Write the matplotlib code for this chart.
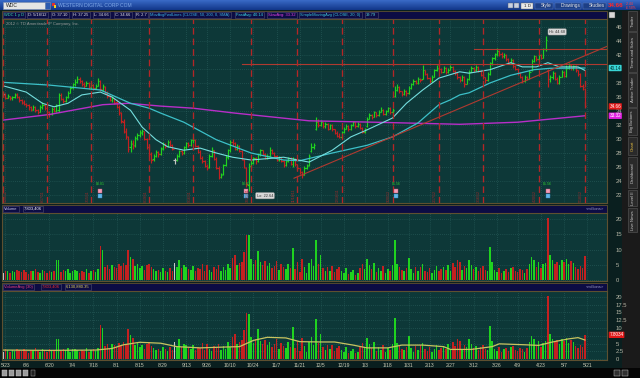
import matplotlib
matplotlib.use('Agg')
import matplotlib.pyplot as plt
import matplotlib.transforms as mtransforms
from matplotlib.patches import Rectangle
from matplotlib.colors import LinearSegmentedColormap
import numpy as np

plt.rcParams['font.family'] = ['Liberation Sans', 'DejaVu Sans']

# daily bars, WDC 5/20/2011 .. 5/18/2012 (index 0 = 5/20/11)
OPEN = [
    36.4, 36.3, 35.9, 36.1, 35.8, 36.0, 36.4, 36.0, 35.5, 35.3,
    35.0, 34.8, 34.5, 34.2, 34.6, 34.1, 33.9, 34.5, 34.9, 34.4,
    33.8, 33.6, 34.3, 34.0, 34.2, 36.3, 35.7, 35.4, 36.0, 36.6,
    37.4, 37.8, 38.2, 38.6, 38.3, 37.9, 37.6, 38.0, 37.4, 37.7,
    37.3, 37.6, 38.3, 37.0, 37.4, 36.6, 36.2, 35.5, 35.8, 35.3,
    34.6, 33.7, 32.5, 31.0, 30.3, 28.8, 29.4, 29.1, 30.2, 30.6,
    30.9, 31.1, 30.0, 28.8, 27.8, 27.1, 27.6, 28.1, 27.8, 28.7,
    29.3, 29.0, 29.6, 29.2, 27.0, 27.0, 27.6, 28.3, 28.0, 28.8,
    29.4, 29.1, 29.8, 29.9, 29.0, 28.2, 27.3, 26.8, 26.2, 26.0,
    27.6, 28.4, 27.2, 25.9, 24.6, 25.0, 26.3, 27.5, 28.4, 29.6,
    29.4, 28.6, 29.0, 28.3, 27.0, 25.8, 23.4, 26.2, 26.6, 27.3,
    26.8, 27.8, 28.4, 27.9, 27.3, 27.6, 28.5, 28.0, 27.6, 27.0,
    27.4, 26.9, 26.3, 26.8, 27.3, 26.4, 27.2, 26.4, 25.8, 25.3,
    24.9, 25.9, 26.3, 28.3, 28.9, 31.5, 32.5, 32.0, 32.4, 31.8,
    32.2, 31.5, 32.0, 31.4, 30.9, 30.5, 30.3, 31.0, 31.5, 31.9,
    31.4, 32.0, 32.4, 31.8, 32.2, 31.6, 31.0, 31.8, 32.9, 33.5,
    33.2, 33.8, 33.4, 33.9, 34.2, 33.6, 34.0, 34.4, 33.8, 36.2,
    37.0, 37.4, 36.8, 36.4, 36.9, 36.5, 37.3, 37.8, 38.3, 38.0,
    38.6, 38.6, 39.8, 39.3, 38.7, 38.3, 38.9, 39.8, 40.6, 40.0,
    39.6, 40.2, 39.5, 39.9, 40.3, 39.7, 39.4, 38.8, 38.4, 38.9,
    37.9, 38.5, 39.6, 40.2, 39.8, 40.3, 39.7, 39.2, 38.8, 38.4,
    39.3, 40.8, 41.5, 42.1, 42.6, 42.2, 41.8, 42.0, 41.4, 40.9,
    41.3, 40.4, 40.0, 39.4, 38.9, 38.3, 38.9, 38.6, 39.8, 41.2,
    41.8, 41.4, 42.0, 41.6, 42.8, 39.9, 38.6, 38.8, 39.4, 38.6,
    38.0, 38.9, 39.6, 39.0, 40.2, 40.6, 40.1, 40.4, 39.8, 39.3,
    37.6, 37.10,
]
HIGH = [
    36.7, 36.5, 36.4, 36.2, 36.2, 36.6, 36.5, 36.1, 35.7, 35.5,
    35.2, 35.0, 34.7, 34.9, 34.7, 34.3, 34.8, 35.3, 35.0, 34.6,
    34.0, 34.5, 34.6, 35.0, 36.6, 36.5, 35.9, 36.2, 36.8, 37.5,
    38.0, 38.5, 39.0, 38.8, 38.4, 38.1, 38.3, 38.1, 37.9, 37.8,
    37.8, 38.7, 38.4, 37.8, 37.5, 36.8, 36.3, 36.1, 35.9, 35.5,
    34.8, 33.9, 32.8, 31.6, 30.5, 29.8, 29.9, 30.4, 30.9, 31.3,
    31.5, 31.2, 30.1, 29.1, 28.2, 27.9, 28.4, 28.3, 28.9, 29.6,
    29.5, 29.9, 29.8, 29.3, 27.3, 27.8, 28.5, 28.5, 29.0, 29.6,
    29.6, 30.0, 30.3, 30.0, 29.2, 28.4, 27.6, 27.0, 26.5, 27.8,
    28.9, 28.5, 27.4, 26.1, 25.2, 26.5, 27.7, 28.6, 29.8, 30.0,
    29.6, 29.3, 29.2, 28.4, 27.2, 26.0, 26.6, 27.0, 27.5, 27.4,
    28.0, 28.6, 28.5, 28.0, 27.8, 28.8, 28.6, 28.1, 27.7, 27.6,
    27.5, 27.0, 27.0, 27.5, 27.4, 27.4, 27.3, 26.5, 25.9, 25.5,
    26.1, 26.5, 27.9, 29.4, 29.5, 33.2, 32.8, 32.7, 32.5, 32.4,
    32.3, 32.2, 32.1, 31.5, 31.1, 30.8, 31.2, 31.7, 32.1, 32.0,
    32.2, 32.6, 32.5, 32.4, 32.3, 31.7, 31.6, 33.1, 33.7, 33.6,
    34.0, 33.9, 34.1, 34.6, 34.3, 34.2, 34.6, 34.5, 34.4, 37.6,
    37.8, 37.5, 36.9, 37.1, 37.0, 37.5, 38.0, 38.5, 38.4, 38.8,
    38.7, 40.6, 39.9, 39.4, 38.8, 39.1, 40.0, 40.6, 40.9, 40.2,
    40.4, 40.3, 40.1, 40.6, 40.4, 39.8, 39.5, 39.0, 39.1, 39.0,
    38.7, 39.8, 40.4, 40.3, 40.6, 40.4, 39.8, 39.3, 38.9, 39.5,
    41.0, 41.7, 42.3, 43.0, 42.7, 42.4, 42.3, 42.1, 41.5, 41.5,
    41.4, 40.6, 40.1, 39.6, 39.0, 39.1, 39.0, 39.8, 41.4, 42.0,
    41.9, 42.2, 42.1, 43.0, 44.68, 40.0, 39.2, 39.7, 39.5, 38.8,
    39.1, 39.9, 39.7, 40.5, 40.9, 40.7, 40.6, 40.5, 39.9, 39.4,
    37.9, 37.25,
]
LOW = [
    36.1, 35.7, 35.8, 35.6, 35.6, 35.9, 35.8, 35.3, 35.0, 34.8,
    34.5, 34.2, 34.0, 34.1, 33.9, 33.6, 33.8, 34.3, 34.2, 33.6,
    33.1, 33.4, 33.8, 33.9, 33.9, 35.5, 35.1, 35.3, 35.9, 36.5,
    37.2, 37.6, 38.0, 38.0, 37.6, 37.3, 37.5, 37.2, 37.2, 37.0,
    37.1, 37.5, 36.9, 36.8, 36.4, 35.9, 35.4, 35.3, 35.0, 34.4,
    33.5, 32.3, 30.9, 30.0, 28.1, 28.2, 28.6, 28.9, 29.8, 30.3,
    30.6, 29.8, 28.6, 27.6, 26.6, 26.9, 27.4, 27.5, 27.7, 28.5,
    28.7, 28.9, 28.9, 28.4, 26.5, 26.8, 27.4, 27.7, 27.9, 28.6,
    28.8, 29.0, 29.5, 28.8, 28.0, 27.1, 26.6, 26.0, 25.6, 25.9,
    27.4, 27.0, 25.7, 24.3, 24.4, 24.9, 26.1, 27.2, 28.2, 29.0,
    28.4, 28.4, 28.1, 27.0, 25.8, 23.2, 22.64, 26.0, 26.4, 26.5,
    26.7, 27.6, 27.7, 27.1, 27.1, 27.5, 27.8, 27.4, 26.8, 26.9,
    26.7, 26.0, 26.2, 26.7, 26.3, 26.0, 26.2, 25.6, 25.0, 24.4,
    24.8, 25.7, 26.2, 28.2, 28.6, 31.3, 31.7, 31.8, 31.6, 31.6,
    31.3, 31.4, 31.2, 30.7, 30.3, 30.1, 30.2, 30.9, 31.4, 31.2,
    31.3, 31.9, 31.6, 31.7, 31.4, 30.8, 30.9, 31.7, 32.8, 32.9,
    33.1, 33.2, 33.3, 33.8, 33.4, 33.5, 33.9, 33.6, 33.2, 36.0,
    36.8, 36.6, 36.1, 36.3, 36.2, 36.4, 37.2, 37.7, 37.8, 37.9,
    38.1, 38.5, 39.1, 38.5, 38.0, 38.2, 38.8, 39.7, 39.8, 39.4,
    39.5, 39.3, 39.4, 39.8, 39.5, 39.2, 38.6, 38.2, 38.3, 37.4,
    37.8, 38.4, 39.5, 39.6, 39.7, 39.5, 39.0, 38.6, 38.0, 38.3,
    39.2, 40.6, 41.3, 41.9, 41.9, 41.5, 41.6, 41.2, 40.7, 40.8,
    40.2, 39.8, 39.2, 38.7, 38.0, 38.2, 38.4, 38.5, 39.7, 41.0,
    41.1, 41.3, 41.4, 41.5, 42.6, 37.4, 38.2, 38.6, 38.4, 37.8,
    37.9, 38.8, 38.8, 38.9, 40.0, 39.9, 39.9, 39.6, 39.0, 37.4,
    37.0, 34.66,
]
CLOSE = [
    36.4, 35.9, 36.1, 35.8, 36.0, 36.3, 36.0, 35.5, 35.2, 35.0,
    34.8, 34.5, 34.3, 34.6, 34.1, 33.9, 34.6, 34.9, 34.4, 33.8,
    33.6, 34.3, 34.0, 34.8, 36.3, 35.7, 35.4, 36.0, 36.6, 37.3,
    37.8, 38.2, 38.6, 38.3, 37.9, 37.6, 38.0, 37.4, 37.7, 37.3,
    37.6, 38.3, 37.2, 37.5, 36.6, 36.2, 35.6, 35.8, 35.2, 34.6,
    33.8, 32.6, 31.2, 30.4, 28.6, 29.3, 29.0, 30.2, 30.6, 31.0,
    31.2, 30.0, 28.8, 27.9, 27.0, 27.6, 28.1, 27.8, 28.6, 29.3,
    29.0, 29.6, 29.2, 28.6, 27.0, 27.6, 28.3, 28.0, 28.8, 29.4,
    29.1, 29.8, 29.9, 29.0, 28.2, 27.3, 26.8, 26.2, 25.8, 27.6,
    28.4, 27.2, 25.9, 24.6, 24.9, 26.3, 27.5, 28.4, 29.6, 29.4,
    28.6, 29.0, 28.3, 27.2, 26.0, 23.6, 26.2, 26.6, 27.3, 26.8,
    27.8, 28.4, 27.9, 27.3, 27.6, 28.5, 28.0, 27.6, 27.0, 27.4,
    26.9, 26.3, 26.8, 27.3, 26.5, 27.2, 26.4, 25.8, 25.3, 24.8,
    25.9, 26.2, 27.6, 28.9, 29.2, 32.5, 32.0, 32.4, 31.8, 32.2,
    31.5, 32.0, 31.4, 30.9, 30.5, 30.3, 31.0, 31.5, 31.9, 31.4,
    32.0, 32.4, 31.8, 32.2, 31.6, 31.0, 31.4, 32.9, 33.5, 33.2,
    33.8, 33.4, 33.9, 34.2, 33.6, 34.0, 34.4, 33.8, 34.2, 37.0,
    37.4, 36.8, 36.4, 36.9, 36.5, 37.3, 37.8, 38.3, 38.0, 38.6,
    38.4, 39.8, 39.3, 38.7, 38.3, 38.9, 39.8, 40.2, 40.0, 39.6,
    40.2, 39.5, 39.9, 40.3, 39.7, 39.4, 38.8, 38.4, 38.9, 37.9,
    38.5, 39.6, 40.2, 39.8, 40.3, 39.7, 39.2, 38.8, 38.4, 39.3,
    40.8, 41.5, 42.1, 42.6, 42.2, 41.8, 42.0, 41.4, 40.9, 41.3,
    40.4, 40.0, 39.4, 38.9, 38.3, 38.9, 38.6, 39.6, 41.2, 41.8,
    41.4, 42.0, 41.6, 42.8, 44.2, 38.6, 38.8, 39.4, 38.6, 38.0,
    38.9, 39.6, 39.0, 40.2, 40.6, 40.1, 40.4, 39.8, 39.3, 37.6,
    37.4, 34.66,
]
# volume, millions of shares
VOLUME = [
    2.4, 3.1, 2.8, 2.2, 3.0, 2.6, 3.3, 2.9, 2.5, 3.4,
    2.7, 2.1, 3.0, 2.8, 3.6, 2.6, 2.3, 3.2, 2.9, 2.4,
    3.1, 2.7, 3.0, 6.4, 6.6, 2.6, 3.3, 2.9, 3.7, 2.4,
    3.1, 3.4, 2.8, 2.2, 3.0, 2.7, 3.5, 2.4, 2.9, 3.2,
    2.6, 3.6, 11.0, 10.0, 4.2, 4.8, 3.6, 5.0, 4.4, 3.9,
    5.2, 4.6, 5.5, 4.8, 9.8, 7.6, 6.8, 4.5, 5.2, 3.8,
    4.6, 3.2, 4.9, 5.4, 4.1, 3.6, 2.8, 3.4, 2.5, 4.0,
    3.1, 2.6, 3.8, 2.9, 5.6, 4.3, 6.5, 3.9, 5.0, 4.4,
    3.6, 3.2, 4.6, 2.8, 4.0, 3.5, 5.2, 3.0, 4.8, 3.4,
    2.6, 4.3, 3.7, 5.0, 2.9, 4.1, 3.3, 5.4, 3.8, 7.1,
    8.2, 4.8, 5.6, 6.0, 9.2, 14.8, 14.6, 7.0, 5.2, 6.4,
    9.6, 5.8, 4.9, 6.2, 4.5, 5.6, 3.8, 4.7, 6.3, 3.4,
    5.1, 4.2, 3.6, 5.4, 4.0, 10.4, 3.5, 5.8, 2.6, 6.8,
    4.1, 2.2, 5.5, 7.0, 4.6, 13.0, 5.2, 8.2, 3.9, 2.8,
    4.4, 3.1, 4.6, 2.5, 3.6, 4.2, 3.0, 2.4, 3.8, 1.9,
    2.7, 3.3, 1.8, 2.2, 4.0, 5.2, 3.5, 6.9, 4.8, 3.7,
    5.6, 2.6, 3.9, 3.0, 4.5, 2.4, 3.6, 2.9, 5.0, 13.1,
    5.2, 4.3, 3.4, 2.8, 3.9, 7.3, 3.6, 2.4, 4.1, 3.0,
    4.4, 5.2, 3.1, 2.6, 3.8, 2.2, 3.3, 4.5, 2.8, 3.6,
    4.2, 3.4, 4.9, 3.0, 5.5, 4.1, 6.6, 5.9, 3.2, 4.6,
    3.8, 6.6, 5.0, 3.5, 4.2, 3.0, 3.8, 4.5, 3.3, 2.9,
    10.7, 5.8, 3.4, 2.6, 3.8, 2.2, 3.1, 3.6, 2.5, 3.9,
    4.2, 3.0, 2.7, 3.5, 3.2, 2.4, 3.7, 5.4, 7.4, 6.6,
    4.2, 5.9, 3.8, 5.2, 5.7, 20.3, 8.2, 6.6, 5.4, 6.0,
    5.0, 6.5, 5.8, 6.8, 5.2, 6.1, 5.5, 4.1, 3.5, 4.6,
    3.8, 7.8034,
]

# moving average lines (bar index, value)
MA20_IDX = [0, 10, 17, 22, 28, 34, 42, 47, 55, 60, 66, 71, 78, 85, 92, 99, 107, 121,
            132, 142, 150, 157, 168, 174, 181, 188, 197, 201, 210, 219, 224, 230, 235, 240, 248, 251]
MA20_VAL = [37.6, 36.7, 35.1, 34.6, 35.1, 36.3, 36.7, 36.0, 34.1, 31.7, 29.9, 28.9, 28.4, 28.7,
            28.0, 27.4, 27.0, 27.4, 26.7, 28.4, 30.3, 31.3, 33.0, 35.1, 37.0, 38.7, 39.6, 39.4,
            39.9, 40.9, 40.3, 40.3, 40.9, 40.3, 40.3, 39.79]
MA50_IDX = [0, 20, 42, 55, 63, 68, 78, 92, 107, 121, 128, 142, 157, 168, 179, 188, 193, 197,
            201, 210, 219, 229, 236, 251]
MA50_VAL = [38.1, 37.7, 37.0, 35.1, 34.4, 33.7, 32.4, 29.9, 28.0, 27.0, 26.9, 28.0, 29.1, 30.3,
            32.3, 34.9, 35.6, 36.3, 36.6, 38.0, 39.1, 39.9, 40.1, 40.14]
MA200_IDX = [0, 20, 43, 54, 68, 82, 100, 132, 160, 197, 222, 251]
MA200_VAL = [32.7, 33.5, 34.9, 35.1, 34.7, 34.4, 33.7, 32.6, 32.4, 32.1, 32.4, 33.32]
VAVG_IDX = [0, 20, 40, 47, 52, 59, 68, 75, 85, 97, 102, 108, 114, 122, 128, 137, 143, 151,
            157, 166, 172, 181, 190, 193, 202, 211, 214, 225, 231, 237, 244, 248, 251]
VAVG_VAL = [2.9, 2.8, 2.9, 3.4, 4.6, 5.4, 5.1, 4.0, 3.6, 3.9, 4.0, 6.0, 7.0, 6.8, 5.6, 5.5, 5.5,
            4.5, 3.6, 3.6, 4.5, 4.5, 4.0, 3.1, 3.1, 4.0, 4.9, 4.6, 4.4, 5.5, 6.5, 6.9, 6.13]

# user drawings: support/resistance levels and a trend line
LEVELS = [(103, 40.67), (203, 42.8)]
TREND_IDX = [125.5, 261]
TREND_VAL = [24.4, 43.3]

DATE_TICKS = [1, 10, 20, 30, 39, 49, 59, 69, 79, 88, 98, 108, 118, 128, 137, 147, 156,
              166, 175, 184, 193, 203, 213, 222, 232, 242, 252]
DATE_LABELS = ['5/23', '6/6', '6/20', '7/4', '7/18', '8/1', '8/15', '8/29', '9/13', '9/26',
               '10/10', '10/24', '11/7', '11/21', '12/5', '12/19', '1/3', '1/18', '1/31',
               '2/13', '2/27', '3/12', '3/26', '4/9', '4/23', '5/7', '5/21']
EXPIRY_IDX = [0, 19, 38, 63, 82, 107, 127, 146, 168, 188, 207, 231, 251]
EXPIRY_LABELS = ['5/20/11', '6/17/11', '7/15/11', '8/19/11', '9/16/11', '10/21/11',
                 '11/18/11', '12/16/11', '1/20/12', '2/17/12', '3/16/12', '4/20/12', '5/18/12']
EVENT_IDX = [42, 105, 169.5, 235]
EVENT_TEXT = ['$0.81', '$0.81', '$1.56', '$1.56']

assert len(OPEN) == len(HIGH) == len(LOW) == len(CLOSE) == len(VOLUME) == 252

W, H = 640, 378
BG = '#0d3838'
GRID = '#2c6360'
FRAME = '#5e5030'
UP, DOWN, FLAT = '#1fd21f', '#c42020', '#c8c8c8'


def rect(x0, y0, x1, y1):
    return [x0 / W, 1 - y1 / H, (x1 - x0) / W, (y1 - y0) / H]


fig = plt.figure(figsize=(6.4, 3.78), dpi=100, facecolor='#0a1f1f')

# window chrome drawn in pixel coordinates
ov = fig.add_axes([0, 0, 1, 1], zorder=-1)
ov.axis('off')
grad = LinearSegmentedColormap.from_list('tb', ['#3d6fcc', '#12378a'])
ov.imshow(np.linspace(0, 1, 20).reshape(-1, 1), extent=[0, W, 10.5, 0], cmap=grad, aspect='auto')
ov.add_patch(Rectangle((3, 2), 42, 7, fc='#e4e4e4', ec='#8090b0', lw=0.4))
ov.text(6, 5.6, 'WDC', fontsize=3.6, color='#202020', va='center')
ov.add_patch(Rectangle((45, 2), 5, 7, fc='#2d5bb0', ec='#8090b0', lw=0.4))
ov.add_patch(Rectangle((52, 3), 3, 3, fc='#e03030', lw=0))
ov.add_patch(Rectangle((53.5, 5), 2.5, 3, fc='#f0d020', lw=0))
ov.text(58, 5.6, 'WESTERN DIGITAL CORP COM', fontsize=3.6, color='#7fa8e8', va='center')
for x in [508, 514]:
    ov.add_patch(Rectangle((x, 3), 5, 5, fc='#c8d0e0', ec='#505a70', lw=0.3))
ov.add_patch(Rectangle((521, 2.5), 12, 6, fc='#e8e8e8', ec='#606060', lw=0.3))
ov.text(527, 5.6, '1 D', fontsize=3.2, color='#202020', va='center', ha='center')
for x0, x1, s in [(535, 553, 'Style'), (555, 581, 'Drawings'), (583, 606, 'Studies')]:
    ov.add_patch(Rectangle((x0, 2.5), x1 - x0, 6, fc='#1d3f86', ec='#6080c0', lw=0.3))
    ov.text(x0 + 6, 5.6, s, fontsize=3.4, color='#e8e8e8', va='center')
ov.text(608, 5.8, '34.66', fontsize=4.4, color='#ff2828', weight='bold', va='center')
ov.text(626, 3.8, '-2.44', fontsize=2.4, color='#ff4040', va='center')
ov.text(626, 7.6, '-6.58%', fontsize=2.4, color='#ff4040', va='center')

# study header strips
for y0, y1 in [(11, 19), (205, 213), (283, 291)]:
    ov.add_patch(Rectangle((2, y0), 605, y1 - y0, fc='#0c0c44', ec=FRAME, lw=0.6))


def tag(x, y, s, color, size=3.0):
    ov.text(x, y, s, color=color, fontsize=size, va='center', ha='left',
            bbox=dict(boxstyle='square,pad=0.35', fc='#0c0c44', ec='#50506e', lw=0.4))


for x, s, col in [(4, 'WDC 1 y D', '#3ee0a8'), (28, 'D: 5/18/12', '#e8e8e8'),
                  (52, 'O: 37.10', '#e8e8e8'), (73, 'H: 37.25', '#e8e8e8'),
                  (94, 'L: 34.66', '#e8e8e8'), (115, 'C: 34.66', '#e8e8e8'),
                  (136, 'R: 2.7', '#e8e8e8'),
                  (150, 'MovAvgFwdLines (CLOSE, 50, 200, 0, SMA)', '#3cb4e0'),
                  (236, 'FastAvg: 40.14', '#3cd8e0'), (268, 'SlowAvg: 33.32', '#e040e0'),
                  (300, 'SimpleMovingAvg (CLOSE, 20, 0)', '#3cc8d8'), (366, '39.79', '#5ad8d8')]:
    tag(x, 15, s, col, 2.9)
tag(4, 209, 'Volume', '#c8c8ec')
tag(24, 209, '7,803,406', '#ffffff')
tag(4, 287, 'VolumeAvg (30)', '#e8407e')
tag(42, 287, '7,803,406', '#e83030')
tag(66, 287, '6,130,880.35', '#e8d860')
for y in [209, 287]:
    ov.text(604, y, '<millions>', fontsize=3.0, color='#9c9cc8', va='center', ha='right')
ov.add_patch(Rectangle((609, 12), 6, 6, fc='#d8d8d8', ec='#404040', lw=0.3))

# right side panel tabs
ov.add_patch(Rectangle((622, 10.5), 18, 357.5, fc='#1a1a1a', lw=0))
for s, y0, y1 in [('Trader', 11, 31), ('Times and Sales', 32, 72), ('Active Trader', 73, 107),
                  ('Big Buttons', 108, 135), ('Chart', 137, 155), ('Dashboard', 157, 188),
                  ('Level II', 190, 206), ('Live News', 208, 232)]:
    ov.add_patch(Rectangle((628, y0), 9, y1 - y0, fc='#2a2a2a', ec='#5a5a5a', lw=0.4))
    ov.text(632.5, (y0 + y1) / 2, s, rotation=90, fontsize=3.1, va='center', ha='center',
            color='#e8c040' if s == 'Chart' else '#c8c8c8')

# bottom tool strip
ov.add_patch(Rectangle((0, 368), W, 10, fc='#050505', lw=0))
for x in [2, 9, 16, 23]:
    ov.add_patch(Rectangle((x, 370), 5, 6, fc='#9a9a9a', ec='#d0d0d0', lw=0.3))
ov.add_patch(Rectangle((31, 370), 4, 6, fc='#202020', ec='#b0b0b0', lw=0.3))
for x in [614, 622]:
    ov.add_patch(Rectangle((x, 370), 6, 6, fc='#303030', ec='#d0d0d0', lw=0.3))
ov.set_xlim(0, W)
ov.set_ylim(H, 0)

idx = np.arange(len(CLOSE))
o, hi, lo, c = map(np.array, (OPEN, HIGH, LOW, CLOSE))
colors = np.where(c > o, UP, np.where(c < o, DOWN, FLAT))

axp = fig.add_axes(rect(2, 19, 607, 203), facecolor=BG)
axv = fig.add_axes(rect(2, 213, 607, 281), facecolor=BG)
axa = fig.add_axes(rect(2, 291, 607, 360), facecolor=BG)

for ax in (axp, axv, axa):
    ax.set_xlim(-0.43, 260.5)
    ax.set_xticks(DATE_TICKS)
    ax.grid(True, color=GRID, ls=(0, (1, 2)), lw=0.5)
    ax.set_axisbelow(True)
    for sp in ax.spines.values():
        sp.set_color(FRAME)
        sp.set_linewidth(0.8)
    ax.tick_params(axis='y', left=False, labelleft=False, right=False, labelright=True,
                   labelsize=4.2, labelcolor='#b4b4a4', pad=3)
    ax.tick_params(axis='x', length=0, labelbottom=False)

# price bars
axp.vlines(idx, lo, hi, colors=colors, lw=0.85)
axp.hlines(o, idx - 0.55, idx, colors=colors, lw=0.85)
axp.hlines(c, idx, idx + 0.55, colors=colors, lw=0.85)
axp.plot(MA200_IDX, MA200_VAL, color='#b82ec8', lw=1.0)
axp.plot(MA50_IDX, MA50_VAL, color='#3cc0c8', lw=0.9)
axp.plot(MA20_IDX, MA20_VAL, color='#74dede', lw=0.8)
for start, level in LEVELS:
    axp.plot([start, 261], [level, level], color='#b03a30', lw=0.8)
axp.plot(TREND_IDX, TREND_VAL, color='#b03a30', lw=0.8)
for e, lab in zip(EXPIRY_IDX, EXPIRY_LABELS):
    axp.axvline(e, color='#b42626', ls=(0, (5, 3)), lw=0.95)
    axp.text(max(e - 1.6, 1.3), 20.95, lab, rotation=90, fontsize=2.6, color='#a02a2a',
             ha='center', va='bottom')
for e, s in zip(EVENT_IDX, EVENT_TEXT):
    axp.text(e, 23.7, s, fontsize=2.5, color='#30d030', ha='center', va='center')
    axp.plot(e, 22.6, 's', ms=2.4, mfc='#f0a0b8', mec='#c05070', mew=0.3)
    axp.plot(e, 21.8, 's', ms=2.4, mfc='#60b8e8', mec='#3080c0', mew=0.3)
axp.set_ylim(20.86, 47.14)
axp.set_yticks(range(22, 47, 2))
axp.set_yticklabels(['' if v == 40 else str(v) for v in range(22, 47, 2)])
axp.text(0.006, 0.985, '2012 \u00a9 TD Ameritrade IP Company, Inc.', transform=axp.transAxes,
         fontsize=3.0, color='#9a9a9a', va='top')
axp.text(239, 45.3, 'Hi: 44.68', fontsize=2.8, color='#303030', ha='center', va='center',
         bbox=dict(boxstyle='round,pad=0.3', fc='#d8d8d8', ec='#909090', lw=0.3))
axp.text(113, 21.9, 'Lo: 22.64', fontsize=2.8, color='#303030', ha='center', va='center',
         bbox=dict(boxstyle='round,pad=0.3', fc='#d8d8d8', ec='#909090', lw=0.3))
tr = mtransforms.blended_transform_factory(axp.transAxes, axp.transData)
for val, fc, tc in [(40.14, '#38d4d4', '#003030'), (34.66, '#e01818', '#ffffff'),
                    (33.32, '#e020e0', '#ffffff')]:
    axp.text(1.004, val, f'{val:.2f}', transform=tr, fontsize=3.3, color=tc, va='center',
             ha='left', clip_on=False,
             bbox=dict(boxstyle='round,pad=0.15', fc=fc, ec='none'))

# volume
axv.bar(idx, VOLUME, width=0.65, color=colors, lw=0)
axv.set_ylim(-0.33, 21.97)
axv.set_yticks([0, 5, 10, 15, 20])

# volume with 30-day average
axa.bar(idx, VOLUME, width=0.65, color=colors, lw=0)
axa.plot(VAVG_IDX, VAVG_VAL, color='#c8c460', lw=0.9)
axa.set_ylim(-0.3, 21.9)
axa.set_yticks(np.arange(0, 20.1, 2.5))
axa.set_yticklabels(['0', '2.5', '5', '', '10', '12.5', '15', '17.5', '20'])
axa.tick_params(axis='x', labelbottom=True, labelsize=3.6, labelcolor='#c8c8b4', pad=2)
axa.set_xticklabels(DATE_LABELS)
tr = mtransforms.blended_transform_factory(axa.transAxes, axa.transData)
axa.text(1.004, 7.8, '7.8034', transform=tr, fontsize=3.3, color='#ffffff', va='center',
         ha='left', clip_on=False, bbox=dict(boxstyle='round,pad=0.15', fc='#e01818', ec='none'))

fig.savefig('out.png', dpi=100, facecolor=fig.get_facecolor())
